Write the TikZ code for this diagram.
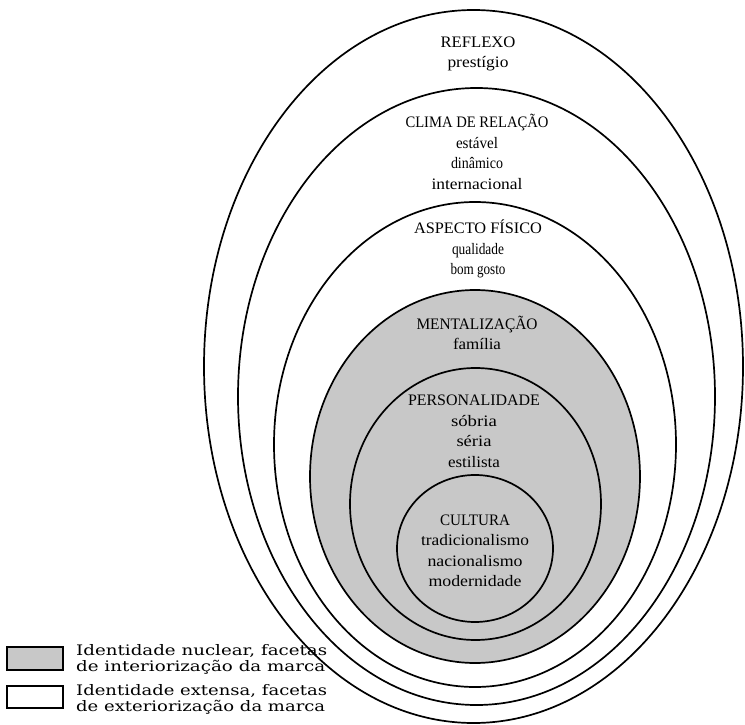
\documentclass[tikz,border=0pt]{standalone}
\usepackage{fontspec}
\setmainfont{Liberation Serif}
\newfontfamily\legfont{DejaVu Serif}
\usetikzlibrary{shapes.geometric}
\newsavebox\fwbox
\newlength\fwlen
\newcommand\fw[2]{\sbox\fwbox{#2}\setlength\fwlen{\wd\fwbox}\pgfmathsetmacro\fwf{#1/\fwlen}\scalebox{\fwf}[1]{\usebox\fwbox}}
\definecolor{coregray}{RGB}{200,200,200}
\begin{document}
\begin{tikzpicture}[x=1pt,y=-1pt,
  ring/.style={ellipse,draw=black,line width=1.7pt,inner sep=0pt,outer sep=0pt},
  lab/.style={align=center,font=\fontsize{16}{20.5}\selectfont,inner sep=0pt},
  legtxt/.style={align=left,anchor=west,font=\legfont\fontsize{14.5}{15.5}\selectfont,inner sep=0pt},
  legbox/.style={draw=black,line width=1.3pt,minimum width=56pt,inner sep=0pt}]
\useasboundingbox (0,0) rectangle (745,725);
% rings
\node[ring,minimum width=539pt,minimum height=713pt] (reflexo) at (473.5,366.5) {};
\node[ring,minimum width=477pt,minimum height=617pt] (clima) at (476.5,396.5) {};
\node[ring,minimum width=402pt,minimum height=485pt] (aspecto) at (475,444.5) {};
\node[ring,fill=coregray,minimum width=330pt,minimum height=373pt] (mental) at (475,476.5) {};
\node[ring,fill=coregray,minimum width=251pt,minimum height=272pt] (person) at (475.5,504) {};
\node[ring,fill=coregray,minimum width=156pt,minimum height=147pt] (cultura) at (475,548.5) {};
% labels
\node[lab] (treflexo) at (478,54) {\fw{75}{REFLEXO}\\\fw{61}{prestígio}};
\node[lab] (tclima) at (477,152) {\fw{143}{CLIMA DE RELAÇÃO}\\\fw{42}{estável}\\\fw{52}{dinâmico}\\\fw{91}{internacional}};
\node[lab] (taspecto) at (478,249) {\fw{128}{ASPECTO FÍSICO}\\\fw{52}{qualidade}\\\fw{55}{bom gosto}};
\node[lab] (tmental) at (477,333) {\fw{121}{MENTALIZAÇÃO}\\\fw{48}{família}};
\node[lab] (tperson) at (474,431.5) {\fw{132}{PERSONALIDADE}\\\fw{46}{sóbria}\\\fw{35}{séria}\\\fw{52}{estilista}};
\node[lab] (tcultura) at (475,551) {\fw{70}{CULTURA}\\\fw{108}{tradicionalismo}\\\fw{95}{nacionalismo}\\\fw{93}{modernidade}};
% legend
\node[legbox,fill=coregray,minimum height=23pt] (kcore) at (35,658.5) {};
\node[legbox,fill=white,minimum height=22pt] (kext) at (35,697) {};
\node[legtxt] (tcore) at (76,659.5) {\fw{251}{Identidade nuclear, facetas}\\\fw{249}{de interiorização da marca}};
\node[legtxt] (text) at (76,699.5) {\fw{251}{Identidade extensa, facetas}\\\fw{249}{de exteriorização da marca}};
\end{tikzpicture}
\end{document}
